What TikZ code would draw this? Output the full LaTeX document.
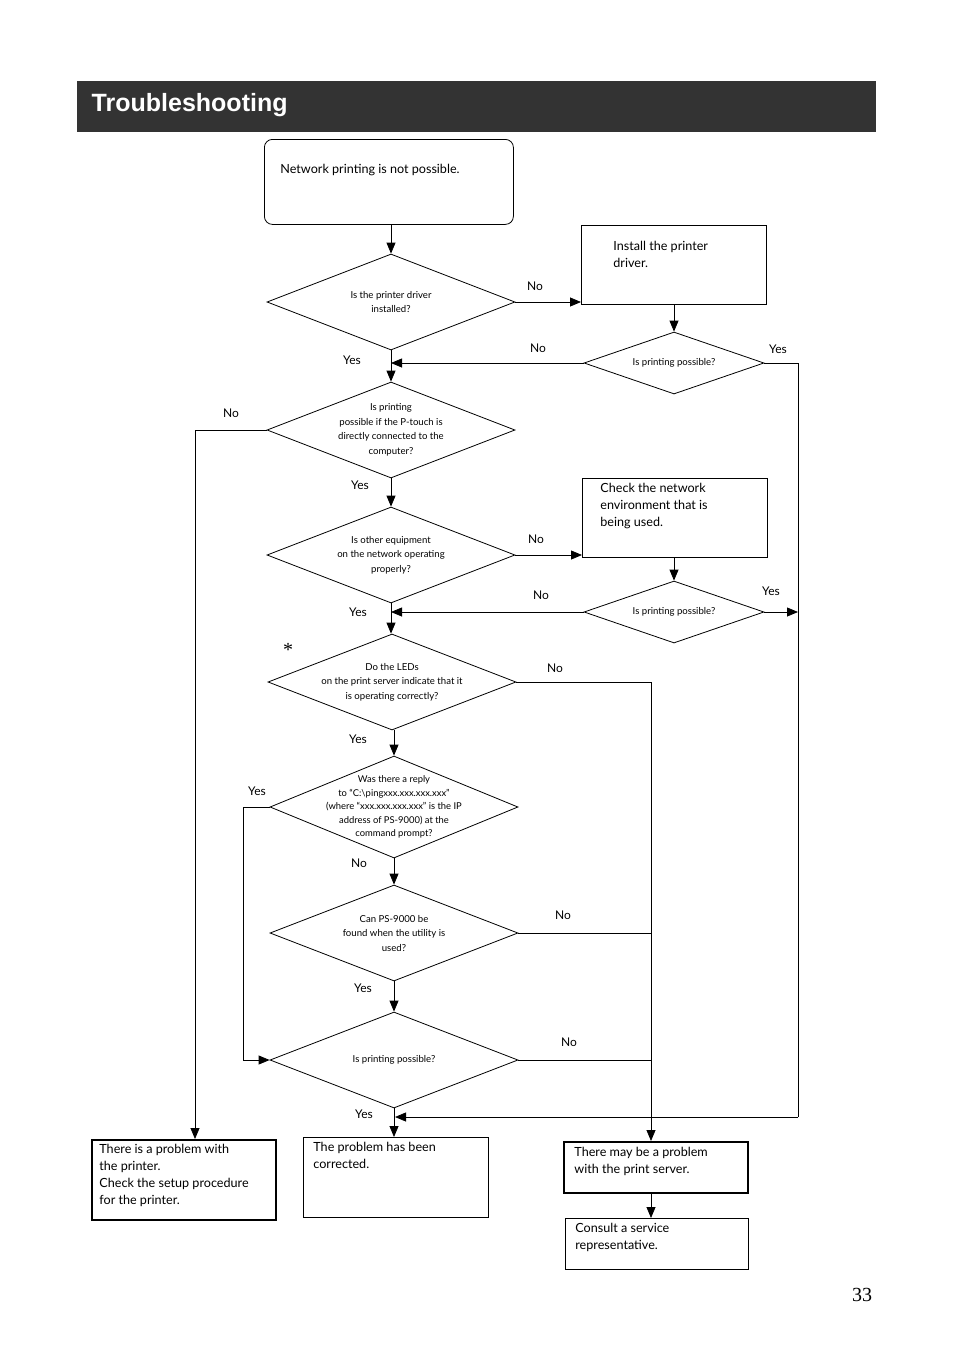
\documentclass[tikz,border=0pt]{standalone}
\usepackage{fontspec}
\setmainfont{Lato}
\newfontfamily\headfont{Liberation Sans}
\newfontfamily\numfont{Liberation Serif}
\usetikzlibrary{shapes.geometric,arrows.meta}
\tikzset{
  every path/.style={line width=0.8pt},
  dia/.style={draw, diamond, minimum width=248pt, minimum height=96pt, inner sep=0pt},
  sdia/.style={draw, diamond, minimum width=180pt, minimum height=62pt, inner sep=0pt},
  dtext/.style={align=center, font=\fontsize{9.6}{14.5}\selectfont, inner sep=0pt},
  box/.style={draw, rectangle, anchor=north west, minimum width=185pt, minimum height=80pt, inner sep=0pt},
  btext/.style={anchor=north west, align=left, font=\fontsize{12.6}{17}\selectfont, inner sep=0pt},
  lbl/.style={font=\fontsize{12}{14}\selectfont, inner sep=0pt},
  arr/.style={-{Triangle[length=11pt,width=9pt]}},
}
\begin{document}
\begin{tikzpicture}[x=1pt,y=-1pt]
\useasboundingbox (0,0) rectangle (954,1352);
% title bar
\fill[black!80] (77,81) rectangle (876,132);
\node[anchor=west, text=white, font=\headfont\bfseries\fontsize{25}{28}\selectfont] at (88,105) {Troubleshooting};

% start
\node[draw, rounded corners=8pt, anchor=north west, minimum width=249pt, minimum height=85pt] (start) at (264,139) {};
\node[btext] at (280,164) {Network printing is not possible.};

% diamonds
\node[dia] (d1) at (391,302) {};
\node[dtext] at (d1) {Is the printer driver\\installed?};
\node[dia] (d2) at (391,430) {};
\node[dtext] at (d2) {Is printing\\possible if the P-touch is\\directly connected to the\\computer?};
\node[dia] (d3) at (391,555) {};
\node[dtext] at (d3) {Is other equipment\\on the network operating\\properly?};
\node[dia] (d4) at (392,682) {};
\node[dtext] at (d4) {Do the LEDs\\on the print server indicate that it\\is operating correctly?};
\node[dia, minimum height=102pt] (d5) at (394,807) {};
\node[dtext, font=\fontsize{9.4}{13.4}\selectfont] at (d5) {Was there a reply\\to “C:\textbackslash pingxxx.xxx.xxx.xxx”\\(where “xxx.xxx.xxx.xxx” is the IP\\address of PS-9000) at the\\command prompt?};
\node[dia] (d6) at (394,933) {};
\node[dtext] at (d6) {Can PS-9000 be\\found when the utility is\\used?};
\node[dia] (d7) at (394,1060) {};
\node[dtext] at (d7) {Is printing possible?};
\node[sdia] (d1b) at (674,363) {};
\node[dtext] at (d1b) {Is printing possible?};
\node[sdia] (d3b) at (674,612) {};
\node[dtext] at (d3b) {Is printing possible?};
\node[font=\numfont\fontsize{20}{20}\selectfont] at (288,650) {*};

% boxes
\node[box, minimum height=79pt] (inst) at (581,225) {};
\node[btext] at (613,241) {Install the printer\\driver.};
\node[box, minimum height=79pt] (chk) at (582,478) {};
\node[btext] at (600,483) {Check the network\\environment that is\\being used.};
\node[box, line width=2pt, minimum width=184pt] (prt) at (91,1139) {};
\node[btext] at (99,1144) {There is a problem with\\the printer.\\Check the setup procedure\\for the printer.};
\node[box, line width=1.4pt] (ok) at (303,1137) {};
\node[btext] at (313,1142) {The problem has been\\corrected.};
\node[box, line width=2pt, minimum width=184pt, minimum height=51pt] (srv) at (563,1141) {};
\node[btext] at (574,1147) {There may be a problem\\with the print server.};
\node[box, line width=1.4pt, minimum width=183pt, minimum height=51pt] (rep) at (565,1218) {};
\node[btext] at (575,1223) {Consult a service\\representative.};
\node[font=\numfont\fontsize{20}{20}\selectfont] at (862,1295) {33};

% helper points
\coordinate (t1) at (391,363);
\coordinate (t3) at (391,612);
\coordinate (rr) at (798,363);
\coordinate (rm) at (798,612);
\coordinate (ry) at (395,1117);
\coordinate (ln) at (195,430);
\coordinate (sv) at (651,682);
\coordinate (lp) at (243,807);

% connectors
\draw[arr] (d1.north |- start.south) -- (d1.north);
\draw[arr] (d1.east) -- (inst.west |- d1.east);
\node[lbl] at (535,286) {No};
\draw[arr] (inst.south -| d1b.north) -- (d1b.north);
\draw[arr] (d1b.west) -- (t1);
\node[lbl] at (538,348) {No};
\draw[arr] (d1.south) -- (d2.north);
\node[lbl] at (352,360) {Yes};
\draw (d1b.east) -- (rr) -- (798,1117);
\draw[arr] (798,1117) -- (ry);
\node[lbl] at (778,349) {Yes};
\draw[arr] (d2.west) -- (ln) -- (ln |- prt.north);
\node[lbl] at (231,413) {No};
\draw[arr] (d2.south) -- (d3.north);
\node[lbl] at (360,485) {Yes};
\draw[arr] (d3.east) -- (chk.west |- d3.east);
\node[lbl] at (536,539) {No};
\draw[arr] (chk.south -| d3b.north) -- (d3b.north);
\draw[arr] (d3b.west) -- (t3);
\node[lbl] at (541,595) {No};
\draw[arr] (d3b.east) -- (rm);
\node[lbl] at (771,591) {Yes};
\draw[arr] (d3.south) -- (d3.south |- d4.north);
\node[lbl] at (358,612) {Yes};
\draw[arr] (d4.east) -- (sv) -- (sv |- srv.north);
\node[lbl] at (555,668) {No};
\draw[arr] (d5.north |- d4.south) -- (d5.north);
\node[lbl] at (358,739) {Yes};
\draw[arr] (d5.west) -- (lp) -- (lp |- d7.west) -- (d7.west);
\node[lbl] at (257,791) {Yes};
\draw[arr] (d5.south) -- (d6.north);
\node[lbl] at (359,863) {No};
\draw (d6.east) -- (sv |- d6.east);
\node[lbl] at (563,915) {No};
\draw[arr] (d6.south) -- (d7.north);
\node[lbl] at (363,988) {Yes};
\draw (d7.east) -- (sv |- d7.east);
\node[lbl] at (569,1042) {No};
\draw[arr] (d7.south) -- (d7.south |- ok.north);
\node[lbl] at (364,1114) {Yes};
\draw[arr] (srv.south -| 651,0) -- (rep.north -| 651,0);
\end{tikzpicture}
\end{document}
